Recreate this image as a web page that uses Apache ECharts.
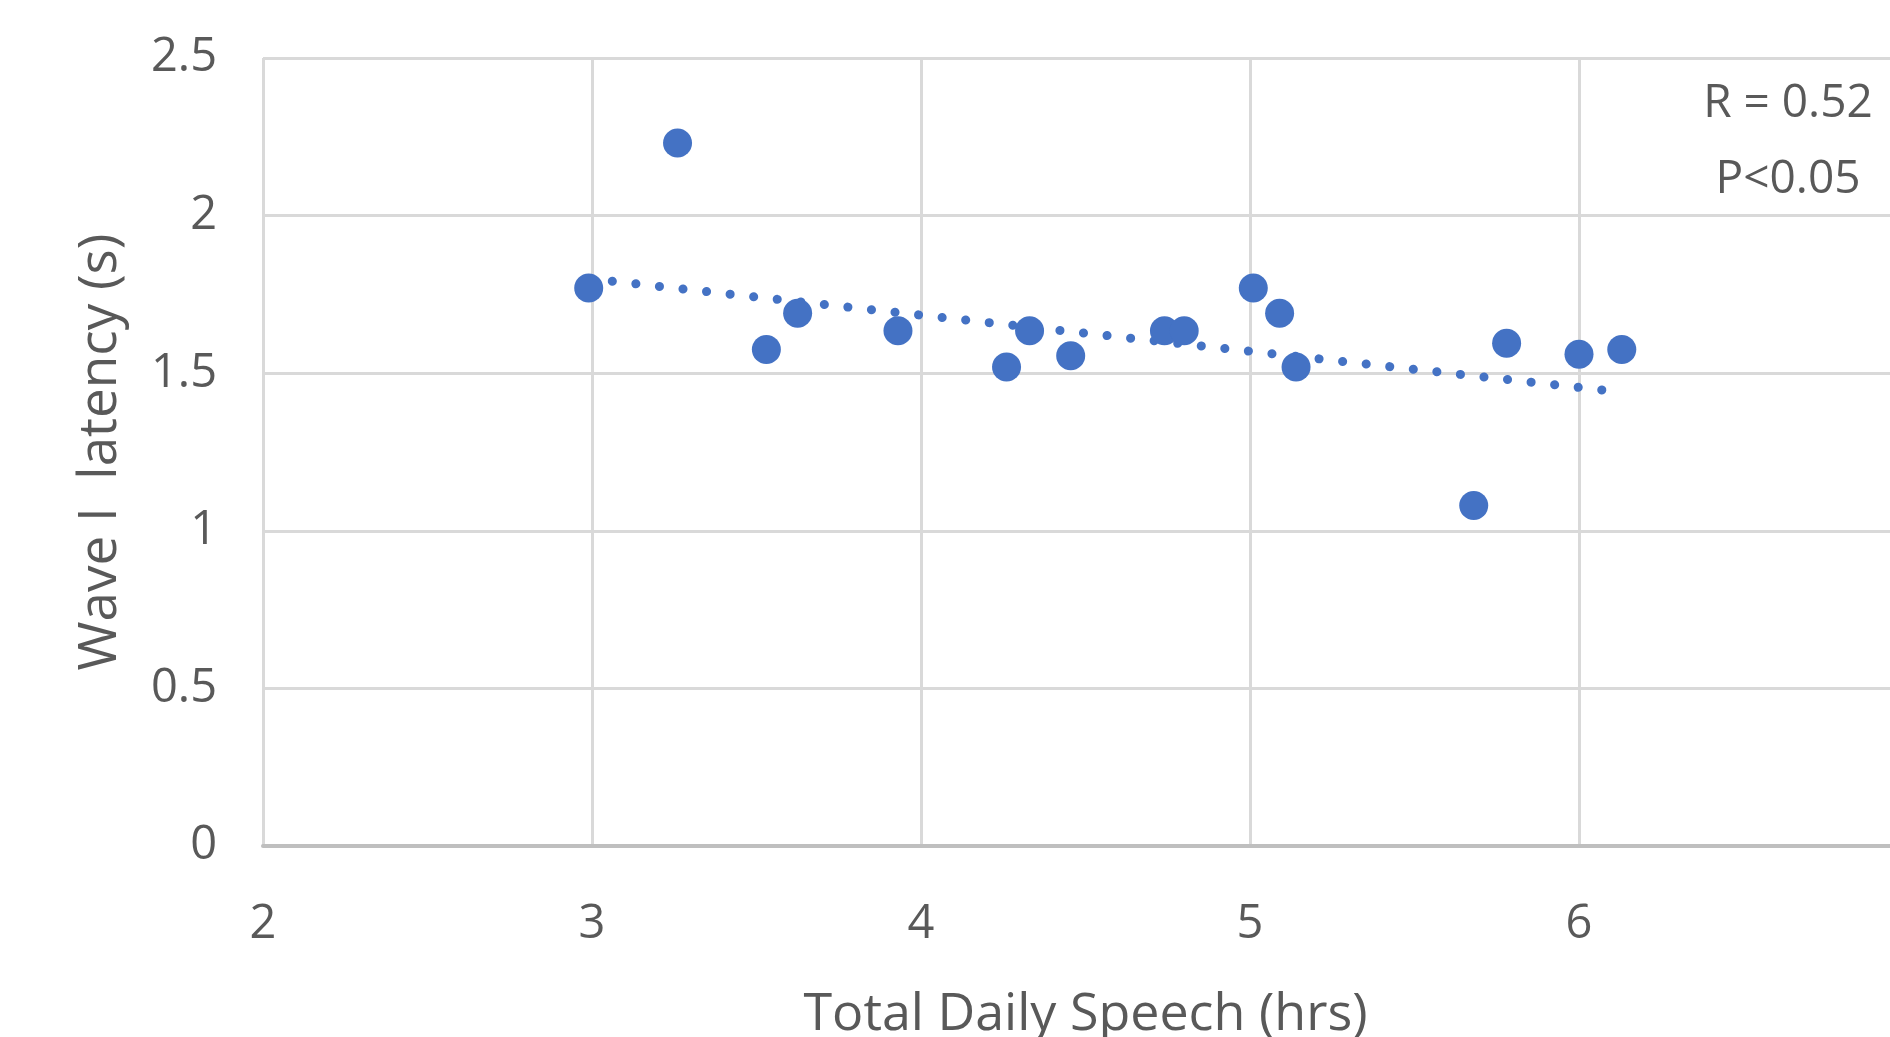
<!DOCTYPE html>
<html>
<head>
<meta charset="utf-8">
<script src="https://cdn.jsdelivr.net/npm/echarts@6/dist/echarts.min.js"></script>
<style>
html,body{margin:0;padding:0;background:#fff;overflow:hidden;}
#chart{width:1890px;height:1037px;}
</style>
</head>
<body>
<div id="chart"></div>
<script>
// Data
const speechHours = [2.99, 3.26, 3.53, 3.625, 3.93, 4.26, 4.33, 4.455, 4.74, 4.80, 5.01, 5.09, 5.14, 5.68, 5.78, 6.00, 6.13];
const wave1Latency = [1.77, 2.23, 1.575, 1.69, 1.635, 1.52, 1.635, 1.555, 1.635, 1.635, 1.77, 1.69, 1.52, 1.08, 1.595, 1.56, 1.575];
const trendX = [2.99, 6.13];
const trendY = [1.80, 1.44];
const xTicks = [2, 3, 4, 5, 6, 7];
const yTicks = [0, 0.5, 1, 1.5, 2, 2.5];
const annotations = ['R = 0.52', 'P<0.05'];
const xTitle = 'Total Daily Speech (hrs)';
const yTitle = 'Wave I  latency (s)';

const points = speechHours.map((x, i) => [x, wave1Latency[i]]);
const trend = trendX.map((x, i) => [x, trendY[i]]);

const FONT = '"Open Sans"';
const TXT = '#595959';
const chart = echarts.init(document.getElementById('chart'), null, {renderer: 'canvas'});
chart.setOption({
  backgroundColor: '#ffffff',
  animation: false,
  grid: {left: 263, top: 58, width: 1645, height: 788, containLabel: false, outerBoundsMode: 'none'},
  xAxis: {
    type: 'value', min: xTicks[0], max: xTicks[xTicks.length - 1], interval: 1,
    name: xTitle, nameLocation: 'middle', nameGap: 143,
    nameTextStyle: {fontFamily: FONT, fontSize: 52, color: TXT},
    axisLine: {show: true, lineStyle: {color: '#bfbfbf', width: 4}},
    axisTick: {show: false},
    axisLabel: {fontFamily: FONT, fontSize: 47, color: TXT, margin: 55},
    splitLine: {show: true, lineStyle: {color: '#d9d9d9', width: 3}}
  },
  yAxis: {
    type: 'value', min: yTicks[0], max: yTicks[yTicks.length - 1], interval: 0.5,
    name: yTitle, nameLocation: 'middle', nameGap: 136,
    nameTextStyle: {fontFamily: FONT, fontSize: 53, color: TXT},
    axisLine: {show: false},
    axisTick: {show: false},
    axisLabel: {fontFamily: FONT, fontSize: 47, color: TXT, margin: 46, padding: [18, 0, 0, 0]},
    splitLine: {show: true, lineStyle: {color: '#d9d9d9', width: 3}}
  },
  series: [
    {
      type: 'line', data: trend, symbol: 'none', silent: true, z: 1,
      lineStyle: {color: '#4472c4', width: 9, type: [0.1, 23.6], cap: 'round'}
    },
    {
      type: 'scatter', data: points, symbol: 'circle', symbolSize: 29, z: 2,
      itemStyle: {color: '#4472c4', opacity: 1}
    }
  ],
  graphic: [
    {type: 'text', x: 1788, y: 104, style: {text: annotations[0], fontFamily: FONT, fontSize: 46, fill: TXT, align: 'center', verticalAlign: 'middle'}},
    {type: 'text', x: 1788, y: 180, style: {text: annotations[1], fontFamily: FONT, fontSize: 46, fill: TXT, align: 'center', verticalAlign: 'middle'}}
  ]
});
</script>
</body>
</html>
